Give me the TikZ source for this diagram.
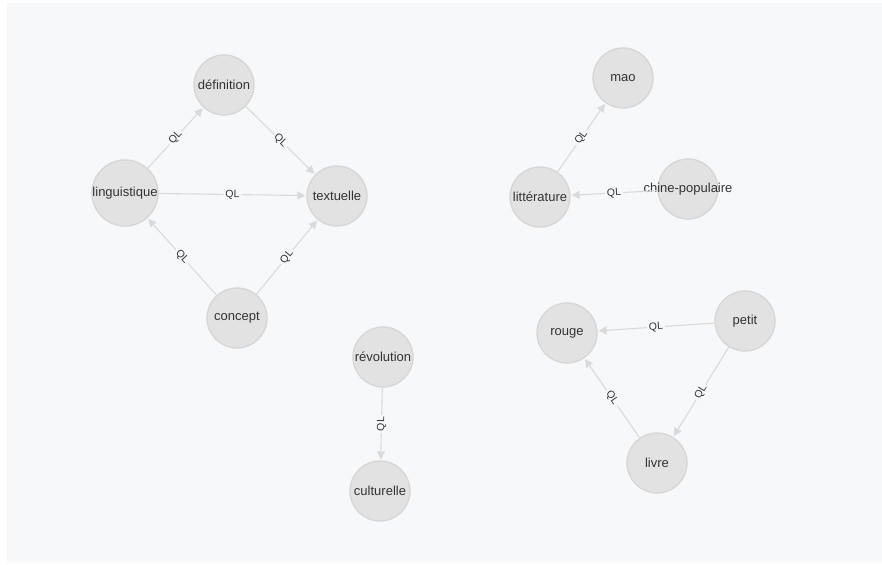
\documentclass[tikz,border=0pt]{standalone}
\usepackage{fontspec}
\setmainfont{Liberation Sans}
\usetikzlibrary{arrows.meta}
\definecolor{panel}{HTML}{F7F8FA}
\definecolor{nodefill}{HTML}{E2E2E2}
\definecolor{nodeborder}{HTML}{D6D6D6}
\definecolor{edgegray}{HTML}{DADADA}
\definecolor{textgray}{HTML}{333333}
\begin{document}
\begin{tikzpicture}
[x=1pt,y=-1pt,
 nodedecorate/.style={shape=circle,minimum size=60pt,inner sep=0pt,draw=nodeborder,fill=nodefill,line width=1.3pt,font=\fontsize{13}{15}\selectfont,text=textgray},
 arrowdecorate/.style={-{Triangle[length=8pt,width=8pt]},draw=edgegray,line width=1.1pt,shorten >=1pt},
 labeldecorate/.style={sloped,fill=panel,inner sep=2pt,font=\fontsize{10.5}{12}\selectfont,text=textgray}]
% background
\useasboundingbox (0,0) rectangle (882,564);
\fill[white] (0,0) rectangle (882,564);
\fill[panel] (7,3) rectangle (882,563);
% nodes or vertices
\node (definition) at (224,85) [nodedecorate] {définition};
\node (linguistique) at (125,193) [nodedecorate] {linguistique};
\node (textuelle) at (337,196) [nodedecorate] {textuelle};
\node (concept) at (237,318) [nodedecorate] {concept};
\node (mao) at (623,78) [nodedecorate] {mao};
\node (litterature) at (540,197) [nodedecorate] {littérature};
\node (chine) at (688,189) [nodedecorate] {\makebox[0pt]{chine-populaire}};
\node (revolution) at (383,357) [nodedecorate] {révolution};
\node (culturelle) at (380,491) [nodedecorate] {culturelle};
\node (rouge) at (567,333) [nodedecorate] {rouge};
\node (petit) at (745,321) [nodedecorate] {petit};
\node (livre) at (657,463) [nodedecorate] {livre};
% edges or lines
\path
(linguistique) edge[arrowdecorate] node[labeldecorate] {QL} (definition)
(definition) edge[arrowdecorate] node[labeldecorate] {QL} (textuelle)
(linguistique) edge[arrowdecorate] node[labeldecorate] {QL} (textuelle)
(concept) edge[arrowdecorate] node[labeldecorate] {QL} (linguistique)
(concept) edge[arrowdecorate] node[labeldecorate] {QL} (textuelle)
(litterature) edge[arrowdecorate] node[labeldecorate] {QL} (mao)
(chine) edge[arrowdecorate] node[labeldecorate] {QL} (litterature)
(revolution) edge[arrowdecorate] node[labeldecorate] {QL} (culturelle)
(petit) edge[arrowdecorate] node[labeldecorate] {QL} (rouge)
(livre) edge[arrowdecorate] node[labeldecorate] {QL} (rouge)
(petit) edge[arrowdecorate] node[labeldecorate] {QL} (livre);
\end{tikzpicture}
\end{document}
